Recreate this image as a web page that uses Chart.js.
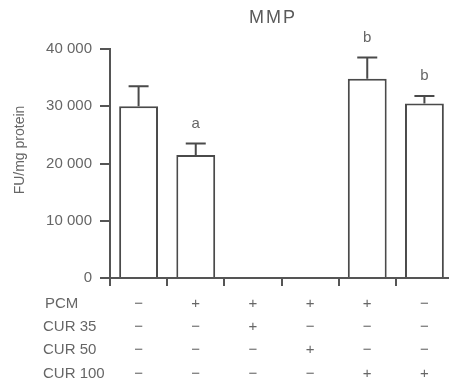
<!DOCTYPE html>
<html><head><meta charset="utf-8">
<script src="https://cdn.jsdelivr.net/npm/chart.js@4/dist/chart.umd.min.js"></script>
<style>
html,body{margin:0;padding:0;background:#fff;overflow:hidden;width:449px;height:383px}
#wrap{position:absolute;left:0;top:0;width:456px;height:397px}
</style>
</head><body><div id="wrap"><canvas id="c" width="456" height="397"></canvas></div>
<script>
const chartTitle = 'MMP';
const yAxisTitle = 'FU/mg protein';
const categories = ['G1', 'G2', 'G3', 'G4', 'G5', 'G6'];
const meanValues = [30000, 21500, null, null, 34800, 30500];
const errorValues = [3500, 2000, null, null, 3700, 1300];
const significance = ['', 'a', '', '', 'b', 'b'];
const rowLabels = ['PCM', 'CUR 35', 'CUR 50', 'CUR 100'];
const pcm    = ['−', '+', '+', '+', '+', '−'];
const cur35  = ['−', '−', '+', '−', '−', '−'];
const cur50  = ['−', '−', '−', '+', '−', '−'];
const cur100 = ['−', '−', '−', '−', '+', '+'];
const yTicks = [0, 10000, 20000, 30000, 40000];

const FONT = "'Liberation Sans', Arial, Helvetica, sans-serif";
const TEXT = '#666';
const LINE = '#555';
const BAR = '#4a4a4a';
const X_TICK_LEN = 8, X_TICK_PAD = 6, X_LINE_H = 23.3;

const rows = [pcm, cur35, cur50, cur100];
const xLabels = categories.map((_, i) => rows.map(r => r[i]));

const annot = {
  id: 'annot',
  afterDatasetsDraw(chart) {
    const ctx = chart.ctx, x = chart.scales.x, y = chart.scales.y;
    ctx.save();
    ctx.strokeStyle = BAR; ctx.lineWidth = 2;
    ctx.fillStyle = TEXT;
    ctx.font = '15px ' + FONT;
    ctx.textAlign = 'center'; ctx.textBaseline = 'middle';
    meanValues.forEach((v, i) => {
      if (v == null) return;
      const px = x.getPixelForValue(i);
      const top = y.getPixelForValue(v);
      const et = y.getPixelForValue(v + errorValues[i]);
      ctx.beginPath();
      ctx.moveTo(px, top); ctx.lineTo(px, et);
      ctx.moveTo(px - 10, et); ctx.lineTo(px + 10, et);
      ctx.stroke();
      if (significance[i]) ctx.fillText(significance[i], px, et - 20);
    });
    ctx.restore();
  },
  afterDraw(chart) {
    const ctx = chart.ctx, x = chart.scales.x;
    ctx.save();
    ctx.fillStyle = '#5a5a5a';
    ctx.font = '18px ' + FONT;
    ctx.letterSpacing = '2px';
    ctx.textAlign = 'center'; ctx.textBaseline = 'middle';
    ctx.fillText(chartTitle, 273, 18);
    ctx.letterSpacing = '0px';
    ctx.fillStyle = TEXT;
    ctx.font = '14px ' + FONT;
    ctx.save();
    ctx.translate(20, 150); ctx.rotate(-Math.PI / 2);
    ctx.fillText(yAxisTitle, 0, 0);
    ctx.restore();
    ctx.font = '15px ' + FONT;
    ctx.textAlign = 'left';
    rowLabels.forEach((t, i) => {
      const yy = x.top + X_TICK_LEN + X_TICK_PAD + X_LINE_H * (i + 0.5);
      ctx.fillText(t, i === 0 ? 45 : 43, yy);
    });
    ctx.restore();
  }
};

new Chart(document.getElementById('c'), {
  type: 'bar',
  data: {
    labels: xLabels,
    datasets: [{
      data: meanValues,
      backgroundColor: '#fff',
      borderColor: BAR,
      borderWidth: 2,
      barPercentage: 0.68,
      categoryPercentage: 1
    }]
  },
  options: {
    responsive: false,
    devicePixelRatio: 1,
    animation: false,
    layout: { padding: { left: 0, right: 3, top: 49, bottom: 5.8 } },
    plugins: { legend: { display: false }, tooltip: { enabled: false }, title: { display: false } },
    scales: {
      x: {
        grid: { drawOnChartArea: false, drawTicks: true, tickLength: X_TICK_LEN, tickColor: LINE, lineWidth: 2 },
        border: { display: true, color: LINE, width: 2 },
        ticks: { color: TEXT, font: { family: FONT, size: 15, lineHeight: X_LINE_H + 'px' }, padding: X_TICK_PAD, maxRotation: 0, autoSkip: false }
      },
      y: {
        min: 0, max: 40000,
        afterFit(s) { s.width = 110; },
        afterBuildTicks(s) { s.ticks = yTicks.map(v => ({ value: v })); },
        grid: { drawOnChartArea: false, drawTicks: true, tickLength: 10, tickColor: LINE, lineWidth: 2 },
        border: { display: true, color: LINE, width: 2 },
        ticks: {
          color: TEXT, padding: 8,
          font: { family: FONT, size: 15 },
          callback: v => String(v).replace(/\B(?=(\d{3})+(?!\d))/g, ' ')
        }
      }
    }
  },
  plugins: [annot]
});
</script>
</body></html>
